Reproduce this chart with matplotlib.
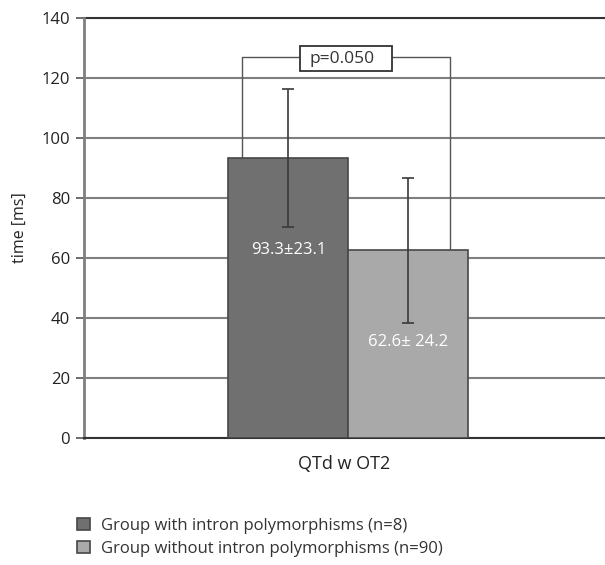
import matplotlib
matplotlib.use("Agg")
import matplotlib.pyplot as plt
from matplotlib.patches import Rectangle

# data
category = "QTd w OT2"
groups = ["Group with intron polymorphisms (n=8)",
          "Group without intron polymorphisms (n=90)"]
means = [93.3, 62.6]
sds = [23.1, 24.2]
value_labels = ["93.3\u00b123.1", "62.6\u00b1 24.2"]
label_pos = [62.7, 32.0]
p_text = "p=0.050"
bracket_y = 127
yticks = [0, 20, 40, 60, 80, 100, 120, 140]

colors = ["#707070", "#a9a9a9"]

plt.rcParams["font.family"] = ["Open Sans", "DejaVu Sans"]

fig = plt.figure(figsize=(6.05, 5.65), dpi=100)
ax = fig.add_axes([0.139, 0.2248, 0.861, 0.7434])

w = 0.23
off = 0.007
xs = [off - w / 2, off + w / 2]
bars = []
for x, m, s, c, g in zip(xs, means, sds, colors, groups):
    b = ax.bar(x, m, width=w, color=c, edgecolor="#474747", linewidth=1.2,
               label=g, zorder=3)
    bars.append(b)
    ax.errorbar(x, m, yerr=s, fmt="none", ecolor="#3a3a3a", elinewidth=1.2,
                capsize=4, capthick=1.2, zorder=4)

for x, t, y in zip(xs, value_labels, label_pos):
    ax.text(x, y, t, color="white", ha="center", va="center", fontsize=12,
            zorder=5)

# significance bracket
lx = xs[0] - w / 2 + 0.027
rx = xs[1] + w / 2 - 0.034
ax.plot([lx, lx, rx, rx], [means[0], bracket_y, bracket_y, means[1]],
        color="#555555", linewidth=1.0, zorder=2)
ax.add_patch(Rectangle((-0.085, 122.3), 0.176, 8.4, facecolor="white",
                       edgecolor="#333333", linewidth=1.3, zorder=6))
ax.text(-0.005, 126.4, p_text, ha="center", va="center", fontsize=12.5,
        color="#333333", zorder=7)

ax.set_xlim(-0.5, 0.5)
ax.set_ylim(0, 140)
ax.set_yticks(yticks)
ax.yaxis.grid(True, color="#7f7f7f", linewidth=1.5, zorder=0)
ax.set_axisbelow(True)
ax.set_xticks([0])
ax.set_xticklabels([category], fontsize=13, color="#222222")
ax.tick_params(axis="x", length=0, pad=12)
ax.tick_params(axis="y", length=6, width=1.2, color="#555555", labelsize=12,
               labelcolor="#222222", pad=4)
ax.set_ylabel("time [ms]", fontsize=11.5, color="#222222", labelpad=10)

for side in ["top", "right"]:
    ax.spines[side].set_visible(False)
ax.spines["left"].set_color("#7f7f7f")
ax.spines["left"].set_linewidth(2)
ax.spines["bottom"].set_color("#333333")
ax.spines["bottom"].set_linewidth(1.5)
ax.axhline(140, color="#333333", linewidth=1.5, zorder=1, clip_on=False)

fig.legend(handles=[b[0] for b in bars], labels=groups, loc="upper left",
           bbox_to_anchor=(0.103, 0.11), frameon=False, fontsize=12,
           handlelength=0.75, handleheight=0.75, handletextpad=0.7,
           labelspacing=0.4, labelcolor="#333333")

fig.savefig("out.png", dpi=100)
